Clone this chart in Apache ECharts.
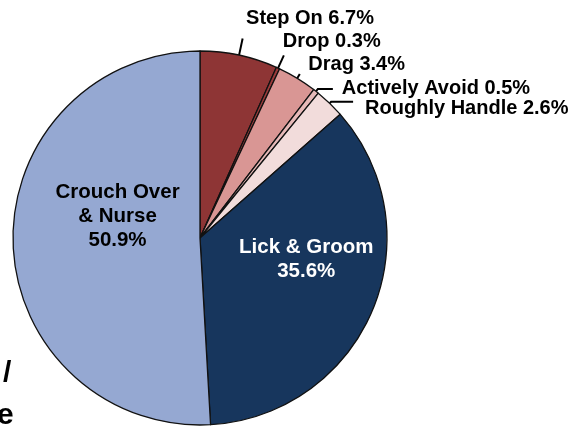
<!DOCTYPE html>
<html>
<head>
<meta charset="utf-8">
<script src="https://cdn.jsdelivr.net/npm/echarts@6/dist/echarts.min.js"></script>
<style>
  html, body { margin: 0; padding: 0; background: #ffffff; }
  #chart { width: 575px; height: 432px; }
</style>
</head>
<body>
<div id="chart"></div>
<script>
// ---- data ----
const categories = ['Step On', 'Drop', 'Drag', 'Actively Avoid', 'Roughly Handle', 'Lick & Groom', 'Crouch Over & Nurse'];
const labelNames = ['Step On', 'Drop', 'Drag', 'Actively Avoid', 'Roughly Handle', 'Lick & Groom', 'Crouch Over\n& Nurse'];
const values = [6.7, 0.3, 3.4, 0.5, 2.6, 35.6, 50.9];
const insideCategories = ['Lick & Groom', 'Crouch Over & Nurse'];
const fragmentTexts = ['/', 'e'];

// ---- styles ----
const sliceColors = {
  'Step On': '#8E3535',
  'Drop': '#9A3B3B',
  'Drag': '#D99694',
  'Actively Avoid': '#E6B9B8',
  'Roughly Handle': '#F2DCDB',
  'Lick & Groom': '#17365D',
  'Crouch Over & Nurse': '#95A8D2'
};
// label line lengths, distance to line, and label offsets (dx, dy)
const labelStyle = {
  'Step On':        { line: [17, 0],  dist: 3.5, off: [0, -20.5] },
  'Drop':           { line: [14, 0],  dist: -1,  off: [0, -13.5] },
  'Drag':           { line: [5, 0],   dist: 8.5, off: [0, -9.5] },
  'Actively Avoid': { line: [3, 15],  dist: 9,   off: [0, -0.5] },
  'Roughly Handle': { line: [2, 22],  dist: 12,  off: [0, 7] },
  'Lick & Groom':   { color: '#ffffff', off: [17.2, -16.3] },
  'Crouch Over & Nurse': { color: '#000000', off: [14, -24.3] }
};

const FONT = '"Liberation Sans", Arial, sans-serif';

const pieData = categories.map((c, i) => {
  const inside = insideCategories.indexOf(c) >= 0;
  const st = labelStyle[c];
  const item = {
    name: c,
    value: values[i],
    itemStyle: { color: sliceColors[c] }
  };
  if (inside) {
    item.label = {
      position: 'inside',
      color: st.color,
      fontSize: 20.5,
      lineHeight: 24,
      formatter: labelNames[i] + '\n' + values[i].toFixed(1) + '%'
    };
    item.labelLine = { show: false };
  } else {
    item.label = {
      position: 'outside',
      color: '#000000',
      fontSize: 20,
      distanceToLabelLine: st.dist,
      formatter: labelNames[i] + ' ' + values[i].toFixed(1) + '%'
    };
    item.labelLine = { show: true, length: st.line[0], length2: st.line[1] };
  }
  return item;
});

const chart = echarts.init(document.getElementById('chart'), null, { renderer: 'canvas' });
chart.setOption({
  backgroundColor: '#ffffff',
  animation: false,
  graphic: [
    { type: 'text', left: 3, top: 359, style: { text: fragmentTexts[0], font: 'bold 30px ' + FONT, fill: '#000000' } },
    { type: 'text', left: -3, top: 401, style: { text: fragmentTexts[1], font: 'bold 30px ' + FONT, fill: '#000000' } }
  ],
  series: [{
    type: 'pie',
    left: 0, top: 0, width: 800, height: 432,
    center: [200, 238],
    radius: 187,
    startAngle: 90,
    clockwise: true,
    avoidLabelOverlap: false,
    silent: true,
    itemStyle: { borderColor: '#111111', borderWidth: 1.3 },
    label: {
      fontFamily: FONT,
      fontWeight: 'bold',
      overflow: 'none'
    },
    labelLine: {
      lineStyle: { color: '#000000', width: 2 },
      smooth: false
    },
    labelLayout: function (params) {
      const st = labelStyle[categories[params.dataIndex]];
      return { dx: st.off[0], dy: st.off[1], hideOverlap: false, moveOverlap: null };
    },
    emphasis: { disabled: true },
    data: pieData
  }]
});
</script>
</body>
</html>
